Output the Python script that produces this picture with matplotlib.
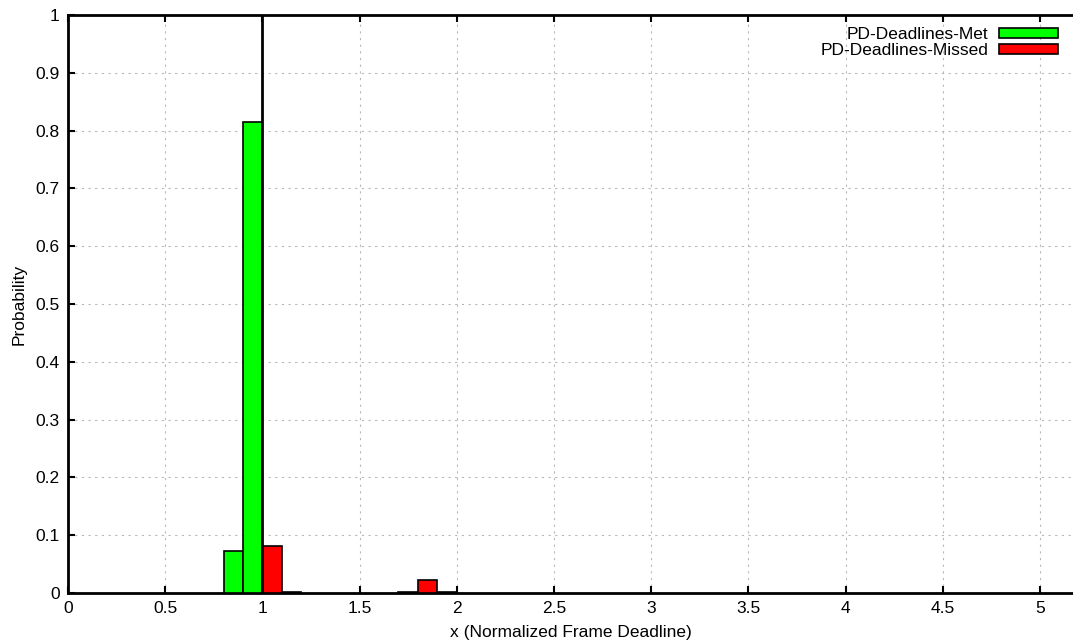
import matplotlib.pyplot as plt
import numpy as np

# histogram bins (left edges, width 0.1) and probabilities
met_x = [0.8, 0.9]
met_p = [0.072, 0.815]
missed_x = [1.0, 1.1, 1.7, 1.8, 1.9]
missed_p = [0.082, 0.002, 0.001, 0.022, 0.001]
bin_w = 0.1
deadline = 1.0

plt.rcParams['font.family'] = ['Liberation Sans', 'DejaVu Sans']
plt.rcParams['font.size'] = 12.5

fig = plt.figure(figsize=(10.73, 6.40), dpi=100)
ax = fig.add_axes([0.0634, 0.0734, 0.9366, 0.9032])

ax.bar(met_x, met_p, width=bin_w, align='edge', color='#00ff00',
       edgecolor='black', linewidth=1.2, label='PD-Deadlines-Met', zorder=3)
ax.bar(missed_x, missed_p, width=bin_w, align='edge', color='#ff0000',
       edgecolor='black', linewidth=1.2, label='PD-Deadlines-Missed', zorder=3)

# deadline marker
ax.plot([deadline, deadline], [0, 1], color='black', linewidth=2, zorder=4)

ax.set_xlim(0, 5.17)
ax.set_ylim(0, 1)
ax.set_xticks(np.arange(0, 5.01, 0.5))
ax.set_xticklabels(['0', '0.5', '1', '1.5', '2', '2.5', '3', '3.5', '4', '4.5', '5'])
ax.set_yticks(np.arange(0, 1.01, 0.1))
ax.set_yticklabels(['0', '0.1', '0.2', '0.3', '0.4', '0.5', '0.6', '0.7', '0.8', '0.9', '1'])
ax.tick_params(direction='in', length=5, width=1.5, top=True, pad=6)
ax.grid(True, linestyle=(0, (2, 4)), color='#b8b8b8', linewidth=0.8, zorder=0)

for side in ['left', 'bottom', 'top']:
    ax.spines[side].set_linewidth(2)
ax.spines['right'].set_visible(False)

ax.set_xlabel('x (Normalized Frame Deadline)', labelpad=6)
ax.set_ylabel('Probability', labelpad=6)

leg = ax.legend(loc='upper right', bbox_to_anchor=(0.995, 0.997), frameon=False,
                markerfirst=False, handlelength=3.4, handleheight=0.5,
                labelspacing=0.05, handletextpad=0.6, borderaxespad=0.2)
for t in leg.get_texts():
    t.set_ha('right')

fig.savefig('out.png', dpi=100)
